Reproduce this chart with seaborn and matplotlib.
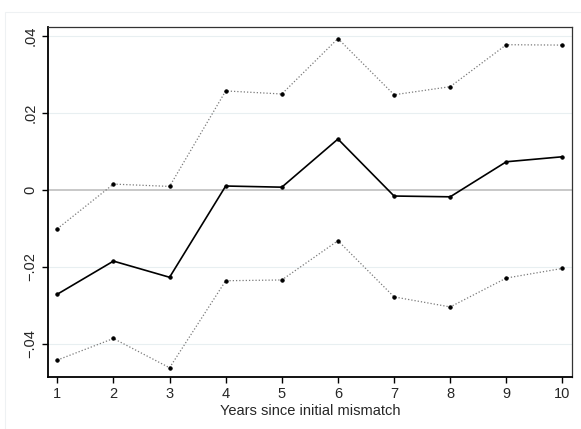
import matplotlib
matplotlib.use("Agg")
import matplotlib.pyplot as plt
import seaborn as sns
import pandas as pd
from matplotlib.patches import Rectangle

years = [1, 2, 3, 4, 5, 6, 7, 8, 9, 10]
estimate = [-0.0271, -0.0185, -0.0227, 0.0010, 0.0007, 0.0132, -0.0016, -0.0018, 0.0073, 0.0086]
upper = [-0.0101, 0.0015, 0.0009, 0.0257, 0.0249, 0.0393, 0.0247, 0.0268, 0.0377, 0.0376]
lower = [-0.0442, -0.0386, -0.0462, -0.0236, -0.0234, -0.0132, -0.0278, -0.0304, -0.0229, -0.0204]
ytick_vals = [-0.04, -0.02, 0.0, 0.02, 0.04]
ytick_labels = ["\u2212.04", "\u2212.02", "0", ".02", ".04"]
xlabel = "Years since initial mismatch"

sns.set_style("ticks")
plt.rcParams["font.family"] = ["Liberation Sans", "DejaVu Sans"]
plt.rcParams["xtick.major.size"] = 4.5
plt.rcParams["ytick.major.size"] = 4.5
plt.rcParams["xtick.major.width"] = 1.0
plt.rcParams["ytick.major.width"] = 1.0

df = pd.DataFrame({"year": years, "est": estimate, "hi": upper, "lo": lower})

fig = plt.figure(figsize=(5.81, 4.29), dpi=100)
# light outer graph region border
fig.patches.append(Rectangle((5 / 581, -0.05), 1.1, 1 - 12 / 429 + 0.05,
                             transform=fig.transFigure, fill=False,
                             edgecolor="#eef1f3", linewidth=0.8))
ax = fig.add_axes([48 / 581, 1 - 377 / 429, (572 - 48) / 581, (377 - 27) / 429])

for v in ytick_vals:
    if v != 0:
        ax.axhline(v, color="#e8eff1", linewidth=0.8, zorder=0)
ax.axhline(0, color="#c8c8c8", linewidth=1.4, zorder=1)

for col in ["hi", "lo"]:
    sns.lineplot(data=df, x="year", y=col, ax=ax, color="#7a7a7a",
                 linestyle=(0, (1, 1.6)), linewidth=0.9, marker="o",
                 markersize=2.4, markerfacecolor="black",
                 markeredgecolor="black", zorder=3)
sns.lineplot(data=df, x="year", y="est", ax=ax, color="black", linewidth=1.2,
             marker="o", markersize=2.4, markerfacecolor="black",
             markeredgecolor="black", zorder=4)

ax.set_xlim(0.834, 10.17)
ax.set_ylim(-0.0486, 0.0423)
ax.set_xticks(years)
ax.set_xticklabels([str(y) for y in years], fontsize=10.5)
ax.set_yticks(ytick_vals)
ax.set_yticklabels(ytick_labels, fontsize=10.5, rotation=90, va="center")
ax.tick_params(axis="both", which="major", direction="out", length=4.5,
               width=1.0, color="black", bottom=True, left=True,
               top=False, right=False, pad=3)
ax.set_xlabel(xlabel, fontsize=10.5, labelpad=2)
ax.set_ylabel("")

for side in ["left", "bottom"]:
    ax.spines[side].set_linewidth(1.3)
    ax.spines[side].set_color("black")
for side in ["top", "right"]:
    ax.spines[side].set_visible(True)
    ax.spines[side].set_linewidth(0.9)
    ax.spines[side].set_color("#333333")

fig.savefig("out.png", dpi=100)
